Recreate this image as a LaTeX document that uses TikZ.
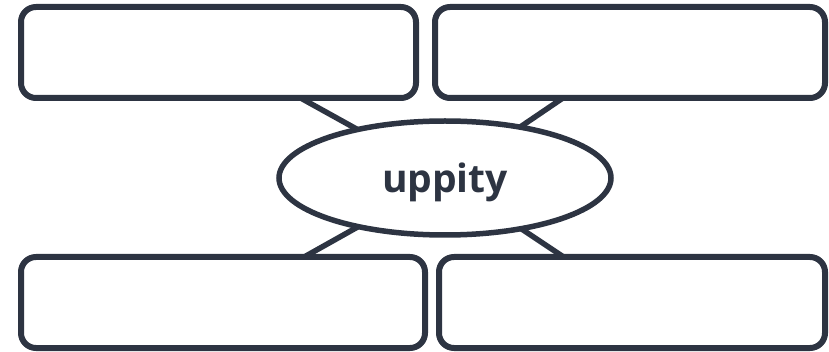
\documentclass[tikz,border=0pt]{standalone}
\usepackage{fontspec}
\newfontfamily\lblfont{Open Sans}
\usetikzlibrary{shapes.geometric,backgrounds}
\definecolor{slate}{RGB}{45,52,66}
\begin{document}
\begin{tikzpicture}[x=1pt,y=-1pt,
  box/.style={draw=slate,line width=6pt,fill=white,rounded corners=15pt,
    minimum width=#1,minimum height=91pt,inner sep=0pt,outer sep=0pt},
  hub/.style={draw=slate,line width=5.5pt,fill=white,ellipse,
    minimum width=332pt,minimum height=114pt,inner sep=0pt,outer sep=0pt,
    text height=29.4pt,text depth=0pt,
    text=slate,font=\lblfont\bfseries\fontsize{39}{46}\selectfont},
  link/.style={draw=slate,line width=5.5pt}]
\useasboundingbox (0,0) rectangle (829,352);
\node[box=395pt] (tl) at (218.5,52.5) {};
\node[box=390pt] (tr) at (630,52.5) {};
\node[box=404pt] (bl) at (223,302.5) {};
\node[box=386pt] (br) at (632,302.5) {};
\node[hub] (el) at (445,178) {uppity};
\begin{scope}[on background layer]
\draw[link] (tl.center) -- (el.center);
\draw[link] (tr.center) -- (el.center);
\draw[link] (bl.center) -- (el.center);
\draw[link] (br.center) -- (el.center);
\end{scope}
\end{tikzpicture}
\end{document}
